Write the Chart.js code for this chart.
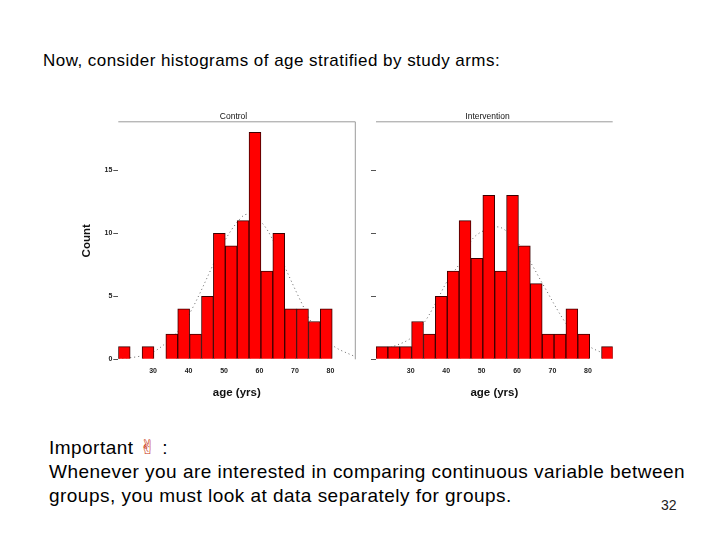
<!DOCTYPE html>
<html>
<head>
<meta charset="utf-8">
<script src="https://cdn.jsdelivr.net/npm/chart.js@4"></script>
<style>
  html, body { margin: 0; background: #fff; }
  #page { position: relative; width: 720px; height: 540px; overflow: hidden; font-family: "Liberation Sans", Arial, sans-serif; color: #000; }
  #page div { position: absolute; white-space: nowrap; }
  #page canvas { position: absolute; }
  #heading { left: 43px; top: 51px; font-size: 17px; letter-spacing: 0.46px; line-height: 20px; }
  #note { left: 49px; top: 436px; font-size: 19px; letter-spacing: 0.47px; line-height: 24px; }
  #pageNo { left: 661px; top: 496px; font-size: 14px; line-height: 18px; color: #222; }
  .hand { color: #c8300c; font-family: "DejaVu Sans"; font-size: 20px; line-height: 20px; font-weight: bold; }
</style>
</head>
<body>
<div id="page">
  <div id="heading">Now, consider histograms of age stratified by study arms:</div>
  <canvas id="controlChart" width="290" height="300" style="left:70px;top:105px"></canvas>
  <canvas id="interventionChart" width="262" height="300" style="left:360px;top:105px"></canvas>
  <div id="note">Important <span class="hand">&#x270C;</span> :<br>Whenever you are interested in comparing continuous variable between<br>groups, you must look at data separately for groups.</div>
  <div id="pageNo">32</div>
</div>
<script>
// bin centres, age in years (20 bins)
const binCenters = [21.875, 25.225, 28.575, 31.925, 35.275, 38.625, 41.975, 45.325, 48.675, 52.025,
  55.375, 58.725, 62.075, 65.425, 68.775, 72.125, 75.475, 78.825, 82.175, 85.525];

// null = empty bin
const controlCounts = [1, null, 1, null, 2, 4, 2, 5, 10, 9, 11, 18, 7, 10, 4, 4, 3, 4, null, null];
const interventionCounts = [1, 1, 1, 3, 2, 5, 7, 11, 8, 13, 7, 13, 9, 6, 2, 2, 4, 2, null, 1];

// dotted normal curves
const controlCurveAge = [20.2, 25.4, 30, 36.9, 41, 47.1, 50.4, 53.8, 56.4, 60.4, 63.7, 67.1, 71.9, 75.2, 80.6, 87];
const controlCurveCount = [0.05, 0.2, 0.55, 2.2, 4, 7.6, 9.5, 10.9, 11.5, 10.9, 9.5, 7.35, 4.45, 2.7, 1.1, 0.2];
const interventionCurveAge = [20.2, 23.6, 30, 34, 37, 40.5, 43.8, 47.3, 50.6, 54.7, 57.7, 60.6, 64, 67.4, 73.8, 77.3, 80.8, 87];
const interventionCurveCount = [0.4, 0.85, 1.67, 3, 4.45, 6.3, 7.6, 9.5, 10.2, 10.5, 10, 9.1, 7.6, 5.9, 2.85, 1.8, 0.95, 0.2];

const xTicks = [30, 40, 50, 60, 70, 80];
const yTicks = [0, 5, 10, 15];

const ageMin = 20.2;
const ageMax = 87;
const countMax = 18.8;
const tickFont = { family: '"Liberation Sans"', size: 7, weight: 'bold' };
const titleFont = { family: '"Liberation Sans"', size: 11.5, weight: 'bold' };

// panel name, top rule and (optional) right rule of each panel
const framePlugin = {
  id: 'frame',
  afterDraw(chart, args, opts) {
    const { ctx, chartArea: a } = chart;
    ctx.save();
    ctx.strokeStyle = '#9a9a9a';
    ctx.lineWidth = 1;
    ctx.beginPath();
    ctx.moveTo(a.left, a.top - 0.5);
    ctx.lineTo(a.right, a.top - 0.5);
    if (opts.right) {
      ctx.lineTo(a.right, a.bottom);
    }
    ctx.stroke();
    ctx.fillStyle = '#111';
    ctx.font = '8.5px "Liberation Sans"';
    ctx.textAlign = 'center';
    ctx.fillText(opts.name, opts.nameX, a.top - 3);
    ctx.restore();
  }
};

function makeHistogram(id, title, counts, curveAge, curveCount, showYAxisText, leftSpace, rightSpace, titleX) {
  const ctx = document.getElementById(id).getContext('2d');
  return new Chart(ctx, {
    type: 'bar',
    data: {
      datasets: [
        {
          type: 'bar',
          order: 1,
          data: binCenters.map((x, i) => ({ x, y: counts[i] })),
          backgroundColor: '#ff0000',
          borderColor: '#3c0000',
          borderWidth: 1,
          barPercentage: 1,
          categoryPercentage: 1
        },
        {
          type: 'line',
          order: 2,
          data: curveAge.map((x, i) => ({ x, y: curveCount[i] })),
          borderColor: '#666666',
          borderWidth: 1,
          borderDash: [1, 3],
          pointRadius: 0,
          tension: 0.35
        }
      ]
    },
    options: {
      responsive: false,
      animation: false,
      layout: { padding: { top: 17.3, right: rightSpace, bottom: 0, left: 0 } },
      plugins: {
        legend: { display: false },
        tooltip: { enabled: false },
        title: { display: false },
        frame: { right: showYAxisText, name: title, nameX: titleX }
      },
      scales: {
        x: {
          type: 'linear',
          offset: false,
          min: ageMin,
          max: ageMax,
          afterBuildTicks(scale) { scale.ticks = xTicks.map(value => ({ value })); },
          afterFit(scale) { scale.height = 45.7; },
          grid: { display: false },
          border: { display: false },
          ticks: { color: '#222', font: tickFont, maxRotation: 0, autoSkip: false, padding: 0 },
          title: {
            display: true,
            text: 'age (yrs)',
            color: '#111',
            font: titleFont,
            padding: { top: 0, bottom: 5.5 }
          }
        },
        y: {
          min: 0,
          max: countMax,
          afterBuildTicks(scale) { scale.ticks = yTicks.map(value => ({ value })); },
          afterFit(scale) { scale.width = leftSpace; },
          grid: { drawOnChartArea: false, drawTicks: true, tickLength: 5, color: '#555' },
          border: { display: false },
          ticks: {
            color: showYAxisText ? '#222' : 'rgba(0,0,0,0)',
            font: tickFont,
            padding: 1
          },
          title: {
            display: showYAxisText,
            text: 'Count',
            color: '#111',
            font: titleFont,
            padding: { top: 10, bottom: 0 }
          }
        }
      }
    },
    plugins: [framePlugin]
  });
}

makeHistogram('controlChart', 'Control', controlCounts, controlCurveAge, controlCurveCount, true, 48.3, 4.7, 163.5);
makeHistogram('interventionChart', 'Intervention', interventionCounts, interventionCurveAge, interventionCurveCount, false, 16, 9.3, 127.5);
</script>
</body>
</html>
